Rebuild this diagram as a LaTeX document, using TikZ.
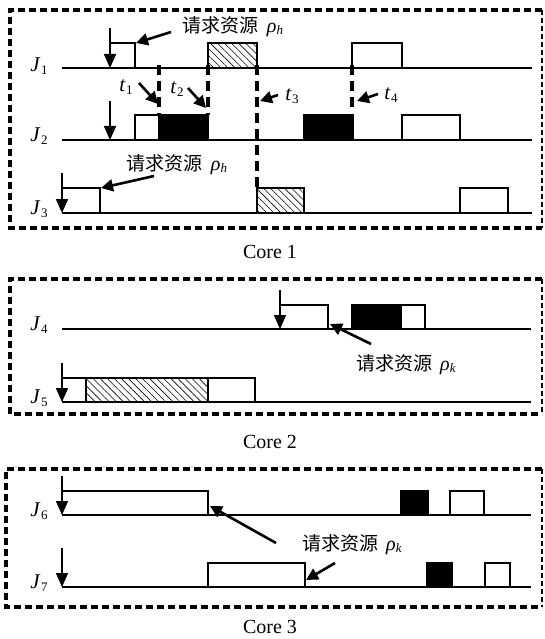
\documentclass[tikz,border=0pt]{standalone}
\usepackage{fontspec}
\setmainfont{Liberation Serif}
\newfontfamily\cjk{Noto Sans CJK SC}
\usetikzlibrary{arrows.meta,patterns.meta}
\newcommand{\sublab}[2]{\textit{#1}\kern0.02em\raisebox{-0.3ex}{\fontsize{13}{13}\selectfont #2}}
\newcommand{\reqlab}[1]{{\cjk\fontsize{19}{19}\selectfont 请求资源}\hspace{8pt}{\fontsize{20}{20}\selectfont\textit{ρ}}\kern0.01em\raisebox{-0.35ex}{\fontsize{13}{13}\selectfont\textit{#1}}}
\begin{document}
\begin{tikzpicture}[x=1pt,y=-1pt,
  tl/.style={line width=1.8pt},
  bx/.style={line width=1.8pt},
  blk/.style={fill=black,draw=black,line width=1.8pt},
  hat/.style={line width=1.8pt,pattern={Lines[angle=-45,distance=5pt,line width=0.6pt]}},
  rel/.style={line width=1.6pt,-{Triangle[length=14pt,width=12pt]}},
  ptr/.style={line width=2.6pt,-{Triangle[length=12pt,width=12pt]}},
  mk/.style={line width=3.8pt,dash pattern=on 10pt off 6pt},
  frm/.style={line width=3.4pt,dash pattern=on 7pt off 4pt},
  frmr/.style={line width=1.1pt,dash pattern=on 5pt off 3pt},
  jl/.style={font=\fontsize{21}{21}\selectfont, inner sep=0pt},
  tlab/.style={font=\fontsize{21}{21}\selectfont, inner sep=0pt},
  req/.style={inner sep=0pt},
  corecap/.style={font=\fontsize{20}{20}\selectfont, inner sep=0pt}
]
\useasboundingbox (0,0) rectangle (544,639);
% ---------- Core 1 ----------
\draw[frm] (542,10) -- (10,10) -- (10,228) -- (542,228);
\draw[frmr] (542,10) -- (542,228);
\node[jl] (j1) at (39,66) {\sublab{J}{1}};
\node[jl] (j2) at (39,136) {\sublab{J}{2}};
\node[jl] (j3) at (39,209) {\sublab{J}{3}};
\draw[tl] (62,68) -- (532,68);
\draw[tl] (62,140) -- (532,140);
\draw[tl] (62,213) -- (532,213);
% J1
\coordinate (r1t) at (110,28); \coordinate (r1b) at (110,68);
\draw[rel] (r1t) -- (r1b);
\draw[bx] (110,43) -- (135,43) -- (135,68);
\coordinate (a1) at (136,43);
\draw[hat] (208,43) rectangle (257,68);
\draw[bx] (352,68) |- (402,43) -- (402,68);
% J2
\coordinate (r2t) at (110,101); \coordinate (r2b) at (110,140);
\draw[rel] (r2t) -- (r2b);
\draw[bx] (135,140) |- (159,115);
\draw[blk] (159,115) rectangle (208,140);
\draw[blk] (304,115) rectangle (353,140);
\draw[bx] (402,140) |- (460,115) -- (460,140);
% J3
\coordinate (r3t) at (62,173); \coordinate (r3b) at (62,213);
\draw[rel] (r3t) -- (r3b);
\draw[bx] (62,188) -- (100,188) -- (100,213);
\coordinate (a3) at (101,188);
\draw[hat] (257,188) rectangle (304,213);
\draw[bx] (460,213) |- (508,188) -- (508,213);
% markers
\coordinate (m1a) at (159,65); \coordinate (m1b) at (159,115);
\coordinate (m2a) at (208,65); \coordinate (m2b) at (208,115);
\coordinate (m3a) at (257,65); \coordinate (m3b) at (257,188);
\coordinate (m4a) at (352,65); \coordinate (m4b) at (352,112);
\draw[mk] (m1a) -- (m1b);
\draw[mk] (m2a) -- (m2b);
\draw[mk] (m3a) -- (m3b);
\draw[mk] (m4a) -- (m4b);
\node[tlab] (t1) at (126,87) {\sublab{t}{1}};
\node[tlab] (t2) at (177,89) {\sublab{t}{2}};
\node[tlab] (t3) at (292,96) {\sublab{t}{3}};
\node[tlab] (t4) at (391,95) {\sublab{t}{4}};
\coordinate (t1s) at (139,83); \coordinate (t1e) at (158,104);
\coordinate (t2s) at (188,88); \coordinate (t2e) at (206,108);
\coordinate (t3s) at (278,95); \coordinate (t3e) at (260,101);
\coordinate (t4s) at (378,94); \coordinate (t4e) at (357,101);
\draw[ptr] (t1s) -- (t1e);
\draw[ptr] (t2s) -- (t2e);
\draw[ptr] (t3s) -- (t3e);
\draw[ptr] (t4s) -- (t4e);
\node[req] (q1) at (233,27) {\reqlab{h}};
\node[req] (q3) at (177,165) {\reqlab{h}};
\coordinate (q1s) at (171,32);
\coordinate (q3s) at (154,176);
\draw[ptr] (q1s) -- (a1);
\draw[ptr] (q3s) -- (a3);
\node[corecap] (c1) at (270,252) {Core 1};
% ---------- Core 2 ----------
\draw[frm] (542,279) -- (10,279) -- (10,414) -- (542,414);
\draw[frmr] (542,279) -- (542,414);
\node[jl] (j4) at (39,325) {\sublab{J}{4}};
\node[jl] (j5) at (39,398) {\sublab{J}{5}};
\draw[tl] (62,329) -- (531,329);
\draw[tl] (62,402) -- (531,402);
\coordinate (r4t) at (280,290); \coordinate (r4b) at (280,329);
\draw[rel] (r4t) -- (r4b);
\draw[bx] (280,305) -- (328,305) -- (328,329);
\coordinate (a4) at (330,324);
\draw[blk] (352,305) rectangle (401,329);
\draw[bx] (401,305) rectangle (425,329);
\coordinate (r5t) at (62,363); \coordinate (r5b) at (62,402);
\draw[rel] (r5t) -- (r5b);
\draw[bx] (62,378) -- (86,378);
\draw[hat] (86,378) rectangle (208,402);
\draw[bx] (208,378) rectangle (255,402);
\node[req] (q4) at (406,365) {\reqlab{k}};
\coordinate (q4s) at (371,344);
\draw[ptr] (q4s) -- (a4);
\node[corecap] (c2) at (270,442) {Core 2};
% ---------- Core 3 ----------
\draw[frm] (542,469) -- (6,469) -- (6,607) -- (542,607);
\draw[frmr] (542,469) -- (542,607);
\node[jl] (j6) at (39,511) {\sublab{J}{6}};
\node[jl] (j7) at (39,583) {\sublab{J}{7}};
\draw[tl] (62,515) -- (531,515);
\draw[tl] (62,587) -- (531,587);
\coordinate (r6t) at (62,476); \coordinate (r6b) at (62,515);
\draw[rel] (r6t) -- (r6b);
\draw[bx] (62,491) -- (208,491) -- (208,515);
\coordinate (a6) at (210,506);
\draw[blk] (401,491) rectangle (428,515);
\draw[bx] (450,515) |- (484,491) -- (484,515);
\coordinate (r7t) at (62,548); \coordinate (r7b) at (62,587);
\draw[rel] (r7t) -- (r7b);
\draw[bx] (208,587) |- (305,563) -- (305,587);
\coordinate (a7) at (306,580);
\draw[blk] (427,563) rectangle (452,587);
\draw[bx] (485,587) |- (510,563) -- (510,587);
\node[req] (q6) at (352,545) {\reqlab{k}};
\coordinate (q6s) at (276,543);
\coordinate (q7s) at (335,563);
\draw[ptr] (q6s) -- (a6);
\draw[ptr] (q7s) -- (a7);
\node[corecap] (c3) at (270,627) {Core 3};
\end{tikzpicture}
\end{document}
